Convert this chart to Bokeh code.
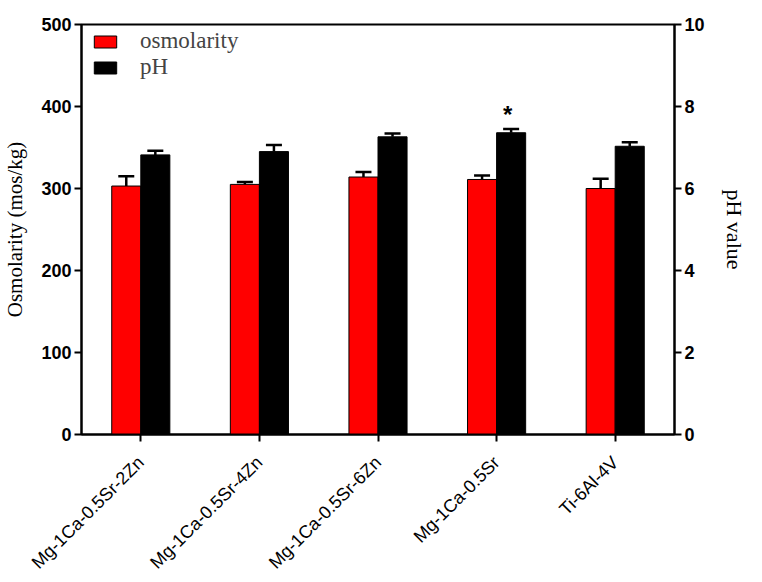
import math
from bokeh.plotting import figure
from bokeh.models import (FactorRange, Range1d, LinearAxis, FixedTicker, Whisker,
                          TeeHead, ColumnDataSource, Legend, LegendItem)
from bokeh.transform import dodge
from bokeh.core.properties import value
from bokeh.embed import file_html
from bokeh.resources import INLINE

categories = ["Mg-1Ca-0.5Sr-2Zn", "Mg-1Ca-0.5Sr-4Zn", "Mg-1Ca-0.5Sr-6Zn",
              "Mg-1Ca-0.5Sr", "Ti-6Al-4V"]
osmolarity = [303, 305, 314, 311, 300]
osmolarity_err = [12, 3, 6, 5, 12]
ph = [6.82, 6.90, 7.26, 7.36, 7.03]
ph_err = [0.10, 0.16, 0.08, 0.09, 0.10]
left_ticks = [0, 100, 200, 300, 400, 500]
right_ticks = [0, 2, 4, 6, 8, 10]
star_category = ["Mg-1Ca-0.5Sr"]
star_level = [7.8]

src = ColumnDataSource(dict(
    cat=categories,
    osm=osmolarity,
    osm_top=[v + e for v, e in zip(osmolarity, osmolarity_err)],
    ph=ph,
    ph_top=[v + e for v, e in zip(ph, ph_err)],
))

p = figure(x_range=FactorRange(*categories, range_padding=0.0),
           y_range=Range1d(0, 500),
           frame_width=593, frame_height=410,
           min_border_left=76, min_border_top=24, min_border_right=77,
           min_border_bottom=130,
           output_backend="svg", toolbar_location=None)
p.extra_y_ranges = {"ph": Range1d(0, 10)}

OFF = 0.1225
W = 0.245
r1 = p.vbar(x=dodge("cat", -OFF, range=p.x_range), top="osm", width=W, source=src,
            fill_color="#ff0000", line_color="black", line_width=1)
r2 = p.vbar(x=dodge("cat", OFF, range=p.x_range), top="ph", width=W, source=src,
            y_range_name="ph", fill_color="black", line_color="black", line_width=1)

w1 = Whisker(base=dodge("cat", -OFF, range=p.x_range), lower="osm", upper="osm_top",
             source=src, line_color="black", line_width=2.5, lower_head=None,
             upper_head=TeeHead(size=16, line_color="black", line_width=2.5))
w2 = Whisker(base=dodge("cat", OFF, range=p.x_range), lower="ph", upper="ph_top",
             source=src, y_range_name="ph", line_color="black", line_width=2.5,
             lower_head=None,
             upper_head=TeeHead(size=16, line_color="black", line_width=2.5))
p.add_layout(w1)
p.add_layout(w2)

star_src = ColumnDataSource(dict(cat=star_category, y=star_level))
p.text(x=dodge("cat", OFF - 0.03, range=p.x_range), y="y", text=value("*"),
       source=star_src, y_range_name="ph", text_font=value("Liberation Sans"),
       text_font_size="24px", text_font_style="bold", text_align="center",
       text_baseline="middle", text_color="black")

right = LinearAxis(y_range_name="ph", axis_label="pH value")
p.add_layout(right, "right")

p.yaxis[0].axis_label = "Osmolarity (mos/kg)"
p.yaxis[0].ticker = FixedTicker(ticks=left_ticks)
right.ticker = FixedTicker(ticks=right_ticks)

for ax in [p.yaxis[0], right]:
    ax.major_label_text_font = "Liberation Sans"
    ax.major_label_text_font_style = "bold"
    ax.major_label_text_font_size = "18px"
    ax.major_label_text_color = "black"
    ax.axis_label_text_font = "Liberation Serif"
    ax.axis_label_text_font_style = "normal"
    ax.axis_label_text_color = "black"
    ax.axis_line_width = 2
    ax.axis_line_color = "black"
    ax.major_tick_line_width = 2
    ax.major_tick_line_color = "black"
    ax.major_tick_out = 7
    ax.major_tick_in = 0
    ax.minor_tick_line_color = None
    ax.major_label_standoff = 3
p.yaxis[0].axis_label_text_font_size = "21px"
p.yaxis[0].axis_label_standoff = 11
right.axis_label_text_font_size = "22px"
right.axis_label_standoff = 14

xa = p.xaxis[0]
xa.major_label_orientation = math.pi / 4
xa.major_label_text_font = "Liberation Sans"
xa.major_label_text_font_size = "18px"
xa.major_label_text_color = "black"
xa.axis_line_width = 2
xa.axis_line_color = "black"
xa.major_tick_line_width = 2
xa.major_tick_line_color = "black"
xa.major_tick_out = 7
xa.major_tick_in = 0
xa.minor_tick_line_color = None
xa.major_label_standoff = 18

p.xgrid.grid_line_color = None
p.ygrid.grid_line_color = None
p.outline_line_color = "black"
p.outline_line_width = 2
p.background_fill_color = "white"
p.border_fill_color = "white"

legend = Legend(items=[LegendItem(label="osmolarity", renderers=[r1]),
                       LegendItem(label="pH", renderers=[r2])],
                location=(10, 354), margin=0, padding=8,
                glyph_width=28, glyph_height=15, spacing=0, label_standoff=21,
                label_text_font="Liberation Serif", label_text_font_size="23px",
                label_height=26,
                border_line_color=None, background_fill_alpha=0)
p.add_layout(legend)

open("out.html", "w").write(file_html(p, INLINE))
